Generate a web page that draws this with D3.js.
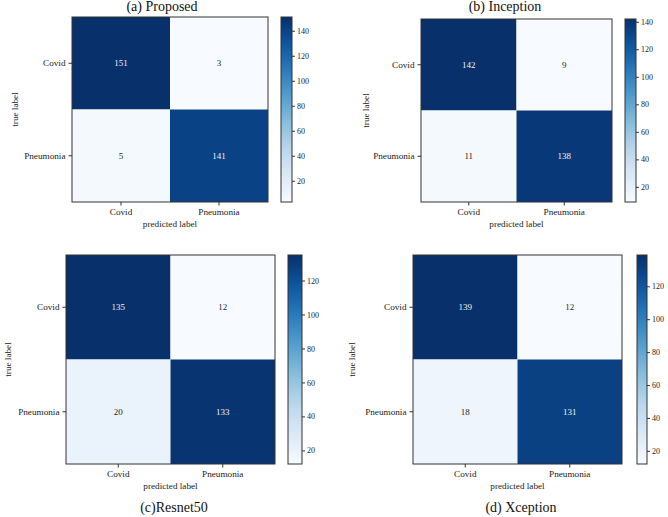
<!DOCTYPE html>
<html>
<head>
<meta charset="utf-8">
<script src="https://cdn.jsdelivr.net/npm/d3@7"></script>
<style>
  body { margin: 0; background: #fff; }
  svg { display: block; }
  svg text { font-family: "Liberation Serif", "DejaVu Serif", serif !important; }
</style>
</head>
<body>
<svg id="chart" width="668" height="517"></svg>
<script>
// class labels (rows = true, cols = predicted)
var classes = ["Covid", "Pneumonia"];
var titles = ["(a) Proposed", "(b) Inception", "(c)Resnet50", "(d) Xception"];

// confusion matrices
var proposed  = [[151, 3], [5, 141]];
var inception = [[142, 9], [11, 138]];
var resnet50  = [[135, 12], [20, 133]];
var xception  = [[139, 12], [18, 131]];
var matrices = [proposed, inception, resnet50, xception];

var cbarStep = 20;

// panel boxes: heatmap [x0,y0,x1,y1], colorbar [x0,x1], title pos, ylabel x
var layout = [
  {hm: [72, 17, 268, 202],  cb: [281, 292], title: [162, 11],  ylab: 15},
  {hm: [421, 19, 612, 202], cb: [625, 636], title: [505, 11],  ylab: 366},
  {hm: [66, 255, 275, 464], cb: [288, 302], title: [174, 512], ylab: 8},
  {hm: [413, 255, 622, 464], cb: [637, 647], title: [521, 512], ylab: 352}
];

var svg = d3.select("#chart");
var defs = svg.append("defs");

matrices.forEach(function(m, k) {
  var L = layout[k];
  var x0 = L.hm[0], y0 = L.hm[1], x1 = L.hm[2], y1 = L.hm[3];
  var flat = d3.merge(m);
  var lo = d3.min(flat), hi = d3.max(flat);
  var color = d3.scaleSequential(d3.interpolateBlues).domain([lo, hi]);
  var mid = (lo + hi) / 2;

  var x = d3.scaleBand().domain(classes).range([x0, x1]);
  var y = d3.scaleBand().domain(classes).range([y0, y1]);

  var g = svg.append("g");

  var cells = [];
  m.forEach(function(row, i) {
    row.forEach(function(v, j) {
      cells.push({r: classes[i], c: classes[j], v: v});
    });
  });

  g.selectAll("rect.cell")
    .data(cells)
    .enter().append("rect")
    .attr("class", "cell")
    .attr("x", function(d) { return x(d.c); })
    .attr("y", function(d) { return y(d.r); })
    .attr("width", x.bandwidth())
    .attr("height", y.bandwidth())
    .attr("fill", function(d) { return color(d.v); });

  g.selectAll("text.val")
    .data(cells)
    .enter().append("text")
    .attr("class", "val")
    .attr("x", function(d) { return x(d.c) + x.bandwidth() / 2; })
    .attr("y", function(d) { return y(d.r) + y.bandwidth() / 2; })
    .attr("dy", "0.35em")
    .attr("text-anchor", "middle")
    .attr("font-size", "9px")
    .attr("fill", function(d) { return d.v > mid ? "#eef2f6" : "#262626"; })
    .text(function(d) { return d.v; });

  // frame
  g.append("rect")
    .attr("x", x0).attr("y", y0)
    .attr("width", x1 - x0).attr("height", y1 - y0)
    .attr("fill", "none").attr("stroke", "#333").attr("stroke-width", 1);

  var ax = g.append("g")
    .attr("transform", "translate(0," + y1 + ")")
    .call(d3.axisBottom(x).tickSize(3.5).tickPadding(3));
  var ay = g.append("g")
    .attr("transform", "translate(" + x0 + ",0)")
    .call(d3.axisLeft(y).tickSize(3.5).tickPadding(3));
  [ax, ay].forEach(function(a) {
    a.select(".domain").remove();
    a.selectAll("line").attr("stroke", "#333");
    a.selectAll("text").attr("font-size", "9.2px").attr("fill", "#222");
  });

  g.append("text")
    .attr("x", (x0 + x1) / 2).attr("y", y1 + 25)
    .attr("text-anchor", "middle").attr("font-size", "9.2px").attr("fill", "#222")
    .text("predicted label");

  g.append("text")
    .attr("transform", "translate(" + L.ylab + "," + ((y0 + y1) / 2) + ") rotate(-90)")
    .attr("dy", "0.35em")
    .attr("text-anchor", "middle").attr("font-size", "9.2px").attr("fill", "#222")
    .text("true label");

  g.append("text")
    .attr("x", L.title[0]).attr("y", L.title[1])
    .attr("text-anchor", "middle").attr("font-size", "14px").attr("fill", "#111")
    .text(titles[k]);

  // colorbar
  var cx0 = L.cb[0], cx1 = L.cb[1];
  var gid = "grad" + k;
  var grad = defs.append("linearGradient").attr("id", gid)
    .attr("x1", "0").attr("y1", "1").attr("x2", "0").attr("y2", "0");
  d3.range(0, 1.0001, 0.05).forEach(function(t) {
    grad.append("stop").attr("offset", t)
      .attr("stop-color", color(lo + t * (hi - lo)));
  });
  g.append("rect")
    .attr("x", cx0).attr("y", y0)
    .attr("width", cx1 - cx0).attr("height", y1 - y0)
    .attr("fill", "url(#" + gid + ")")
    .attr("stroke", "#333").attr("stroke-width", 1);

  var cscale = d3.scaleLinear().domain([lo, hi]).range([y1, y0]);
  var cticks = d3.range(cbarStep, hi + 1, cbarStep).filter(function(t) { return t >= lo; });
  var cax = g.append("g")
    .attr("transform", "translate(" + cx1 + ",0)")
    .call(d3.axisRight(cscale).tickValues(cticks).tickSize(3).tickPadding(2));
  cax.select(".domain").remove();
  cax.selectAll("line").attr("stroke", "#333");
  cax.selectAll("text").attr("font-size", "8px").attr("fill", "#222");
});
</script>
</body>
</html>
